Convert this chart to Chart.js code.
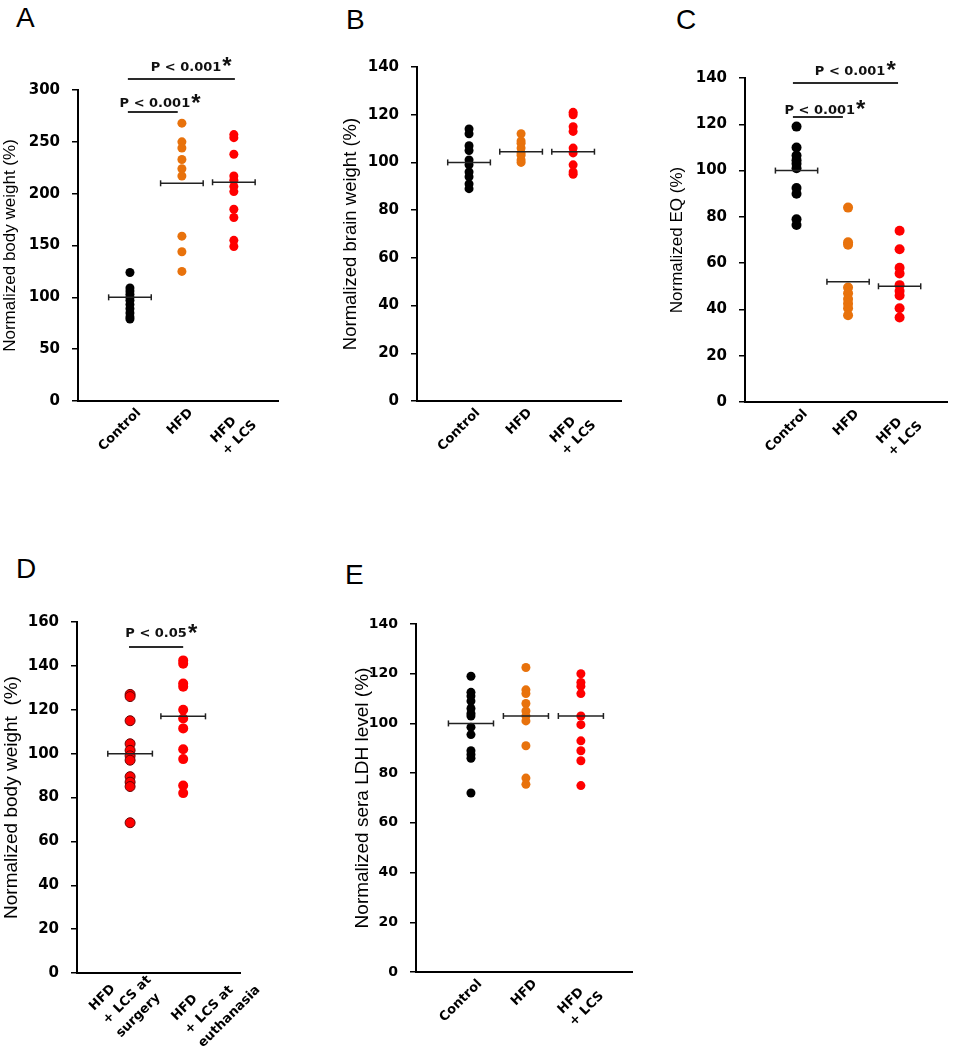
<!DOCTYPE html>
<html><head><meta charset="utf-8">
<script src="https://cdn.jsdelivr.net/npm/chart.js@4.4.1/dist/chart.umd.min.js"></script>
<style>
html,body{margin:0;padding:0;background:#fff;}
body{width:954px;height:1050px;position:relative;overflow:hidden;}
canvas{position:absolute;}
.lbl{position:absolute;font-family:'Liberation Sans',Arial,sans-serif;font-size:28px;line-height:28px;color:#000;}
</style></head><body>
<div class="lbl" style="left:16px;top:4px">A</div>
<div class="lbl" style="left:346px;top:6px">B</div>
<div class="lbl" style="left:676px;top:6px">C</div>
<div class="lbl" style="left:16px;top:555px">D</div>
<div class="lbl" style="left:345px;top:561px">E</div>
<canvas id="cA" width="300" height="490" style="left:0px;top:0px"></canvas>
<canvas id="cB" width="291" height="490" style="left:340px;top:0px"></canvas>
<canvas id="cC" width="286" height="490" style="left:667px;top:0px"></canvas>
<canvas id="cD" width="300" height="550" style="left:0px;top:500px"></canvas>
<canvas id="cE" width="300" height="550" style="left:351px;top:500px"></canvas>
<script>
// ---- categories ----
const groupLabels = [['Control'], ['HFD'], ['HFD  \u2009', '+ LCS']];
const surgeryLabels = [['HFD', '+ LCS at', 'surgery'], ['HFD', '+ LCS at', 'euthanasia']];

// ---- A: body weight ----
const bodyControl = [124, 109, 106, 103, 100, 97, 93, 89, 85, 81, 79];
const bodyHFD = [268, 250, 244, 233, 224, 217, 159, 144, 125];
const bodyLCS = [257, 254, 238, 217, 213, 207, 202, 185, 177, 155, 149];
const bodyMeans = [100, 210, 211];

// ---- B: brain weight ----
const brainControl = [114, 112, 107, 105, 101, 99, 96, 94, 91, 89];
const brainHFD = [112, 109, 108, 106, 104, 103, 101, 100];
const brainLCS = [121, 120, 115, 113, 106, 104, 99, 96, 95];
const brainMeans = [100, 104.5, 104.5];

// ---- C: EQ ----
const eqControl = [119, 110, 106.5, 104.5, 103, 101, 92.5, 90, 79, 76.5];
const eqHFD = [84, 69, 68, 49.5, 47, 44.5, 42.5, 40.5, 37.5];
const eqLCS = [74, 66, 58, 55.5, 50.5, 48, 46, 40.5, 36.5];
const eqMeans = [100, 52, 50];

// ---- D: body weight surgery vs euthanasia ----
const atSurgery = [127, 126, 115, 104.5, 101.5, 99, 97, 89.5, 87, 85, 68.5];
const atEuthanasia = [142.5, 141, 132, 130.5, 120, 116, 111.5, 102, 97.5, 85.5, 82];
const dMeans = [100, 117];

// ---- E: LDH ----
const ldhControl = [119, 112.5, 111, 109, 106, 104, 103, 98.5, 95.5, 89, 87.5, 86, 72];
const ldhHFD = [122.5, 113.5, 112, 108, 105, 103, 101, 91, 78, 75.5];
const ldhLCS = [120, 116.5, 115, 112, 103, 99.5, 93, 89, 85, 75];
const ldhMeans = [100, 103, 103];

// ---- significance labels ----
const pLabelA = ['P < 0.001', 'P < 0.001'];
const pLabelC = ['P < 0.001', 'P < 0.001'];
const pLabelD = ['P < 0.05'];

const BLACK = '#000000', ORANGE = '#E8720C', RED = '#FF0000';

const bracketPlugin = {
  id: 'brackets',
  afterDatasetsDraw(chart, args, opts) {
    const items = (opts && opts.items) || [];
    const {ctx} = chart; const x = chart.scales.x, y = chart.scales.y;
    ctx.save();
    items.forEach(b => {
      ctx.strokeStyle = '#2a2a2a'; ctx.lineWidth = 2;
      ctx.beginPath();
      const py = Math.round(y.getPixelForValue(b.y));
      ctx.moveTo(x.getPixelForValue(b.x1), py);
      ctx.lineTo(x.getPixelForValue(b.x2), py);
      ctx.stroke();
      ctx.font = 'bold 13px "DejaVu Sans"';
      ctx.fillStyle = '#111'; ctx.textAlign = 'center'; ctx.textBaseline = 'middle';
      const tx = x.getPixelForValue(b.tx), ty = y.getPixelForValue(b.ty);
      ctx.fillText(b.text, tx, ty);
      const w = ctx.measureText(b.text).width;
      ctx.font = 'bold 24px "Liberation Sans"'; ctx.textAlign = 'left'; ctx.textBaseline = 'alphabetic';
      ctx.fillText('*', tx + w / 2 + 1, ty + 7);
    });
    ctx.restore();
  }
};

// left-aligned rotated category labels (used for panel D)
const sideLabelPlugin = {
  id: 'sideLabels',
  afterDraw(chart, args, opts) {
    if (!opts || !opts.labels) return;
    const {ctx, chartArea} = chart; const x = chart.scales.x;
    ctx.save();
    ctx.font = 'bold 13px "DejaVu Sans"'; ctx.fillStyle = '#000';
    ctx.textAlign = 'left'; ctx.textBaseline = 'alphabetic';
    opts.labels.forEach((lines, i) => {
      const off = opts.offsets[i];
      ctx.save();
      ctx.translate(x.getPixelForValue(i + 1) + off[0], chartArea.bottom + off[1]);
      ctx.rotate(-Math.PI / 4);
      lines.forEach((t, j) => ctx.fillText(t, 0, j * opts.lineHeight));
      ctx.restore();
    });
    ctx.restore();
  }
};

function makeChart(id, c) {
  const datasets = [];
  c.series.forEach((s, i) => {
    datasets.push({
      type: 'scatter', order: 2,
      data: s.values.map(v => ({x: i + 1, y: v})),
      backgroundColor: s.color, borderColor: s.border || s.color,
      borderWidth: s.border ? 1 : 0, pointRadius: c.radius, pointHoverRadius: c.radius
    });
  });
  c.means.forEach((m, i) => {
    datasets.push({
      type: 'line', order: 1, showLine: true,
      data: [{x: i + 1 - c.hw, y: m}, {x: i + 1 + c.hw, y: m}],
      borderColor: '#222', borderWidth: 1.5, pointStyle: 'line', pointRotation: 90,
      pointRadius: 3, pointBorderWidth: 1.5, pointBorderColor: '#222', pointBackgroundColor: '#222'
    });
  });
  const custom = !!c.sideLabels;
  return new Chart(document.getElementById(id), {
    type: 'scatter',
    data: {datasets},
    plugins: [bracketPlugin, sideLabelPlugin],
    options: {
      responsive: false, animation: false, events: [],
      layout: {padding: {left: 0, top: c.padTop, right: c.padRight, bottom: 0}},
      plugins: {legend: {display: false}, tooltip: {enabled: false},
        brackets: {items: c.brackets || []},
        sideLabels: custom ? {labels: c.labels, offsets: c.sideLabels.offsets, lineHeight: c.sideLabels.lineHeight} : {}},
      scales: {
        x: {
          type: 'linear', min: 0, max: c.xMax,
          afterBuildTicks: s => { s.ticks = c.labels.map((_, i) => ({value: i + 1})); },
          afterFit: s => { s.height = c.xHeight; },
          ticks: {display: !custom, autoSkip: false, minRotation: 45, maxRotation: 45, padding: 4, labelOffset: 9, color: '#000',
            font: {family: 'DejaVu Sans', weight: 'bold', size: 13, lineHeight: 1.3},
            callback: v => c.labels[Math.round(v) - 1] || ''},
          grid: {display: true, drawOnChartArea: false, drawTicks: false},
          border: {display: true, color: '#000', width: 2}
        },
        y: {
          min: 0, max: c.yMax,
          afterFit: s => { s.width = c.yWidth; },
          ticks: {stepSize: c.yStep, padding: 12, color: '#000',
            font: {family: 'DejaVu Sans', weight: 'bold', size: c.tickSize || 15}},
          grid: {display: true, drawOnChartArea: false, drawTicks: true, tickLength: 6, color: '#000', lineWidth: 1.5},
          border: {display: true, color: '#000', width: 2},
          title: {display: true, text: c.title, color: '#000', padding: 0,
            font: {family: 'Liberation Sans', size: c.titleSize, weight: 'normal'}}
        }
      }
    }
  });
}

makeChart('cA', {
  series: [{values: bodyControl, color: BLACK}, {values: bodyHFD, color: ORANGE}, {values: bodyLCS, color: RED}],
  means: bodyMeans, labels: groupLabels, hw: 0.41, radius: 4.5,
  yMax: 300, yStep: 50, xMax: 3.85, yWidth: 78, xHeight: 89, padTop: 90, padRight: 22,
  title: 'Normalized body weight (%)', titleSize: 17,
  brackets: [
    {x1: 0.96, x2: 3.02, y: 310.6, tx: 2.08, ty: 322, text: pLabelA[0]},
    {x1: 0.96, x2: 1.92, y: 278.8, tx: 1.48, ty: 286.5, text: pLabelA[1]}
  ]
});
makeChart('cB', {
  series: [{values: brainControl, color: BLACK}, {values: brainHFD, color: ORANGE}, {values: brainLCS, color: RED}],
  means: brainMeans, labels: groupLabels, hw: 0.41, radius: 4.5,
  yMax: 140, yStep: 20, xMax: 3.92, yWidth: 77, xHeight: 89, padTop: 67, padRight: 10,
  title: 'Normalized brain weight (%)', titleSize: 18.5
});
makeChart('cC', {
  series: [{values: eqControl, color: BLACK}, {values: eqHFD, color: ORANGE}, {values: eqLCS, color: RED}],
  means: eqMeans, labels: groupLabels, hw: 0.41, radius: 5,
  yMax: 140, yStep: 20, xMax: 3.92, yWidth: 78, xHeight: 88, padTop: 78, padRight: 6,
  title: 'Normalized EQ (%)', titleSize: 17,
  brackets: [
    {x1: 0.93, x2: 2.97, y: 137.7, tx: 2.04, ty: 142.9, text: pLabelC[0]},
    {x1: 0.93, x2: 1.90, y: 123, tx: 1.45, ty: 126.1, text: pLabelC[1]}
  ]
});
makeChart('cD', {
  series: [{values: atSurgery, color: RED, border: '#6a0000'}, {values: atEuthanasia, color: RED}],
  means: dMeans, labels: surgeryLabels, hw: 0.42, radius: 5,
  yMax: 160, yStep: 20, xMax: 3.07, yWidth: 77, xHeight: 77, padTop: 122, padRight: 60,
  title: 'Normalized body weight  (%)', titleSize: 19,
  sideLabels: {offsets: [[-36, 38], [-7, 48]], lineHeight: 19},
  brackets: [
    {x1: 0.98, x2: 2.0, y: 148.8, tx: 1.49, ty: 154.6, text: pLabelD[0]}
  ]
});
makeChart('cE', {
  series: [{values: ldhControl, color: BLACK}, {values: ldhHFD, color: ORANGE}, {values: ldhLCS, color: RED}],
  means: ldhMeans, labels: groupLabels, hw: 0.41, radius: 4.5,
  yMax: 140, yStep: 20, xMax: 3.93, yWidth: 65, xHeight: 78, padTop: 124, padRight: 19,
  title: 'Normalized sera LDH level (%)', titleSize: 19, tickSize: 14
});
</script>
</body></html>
